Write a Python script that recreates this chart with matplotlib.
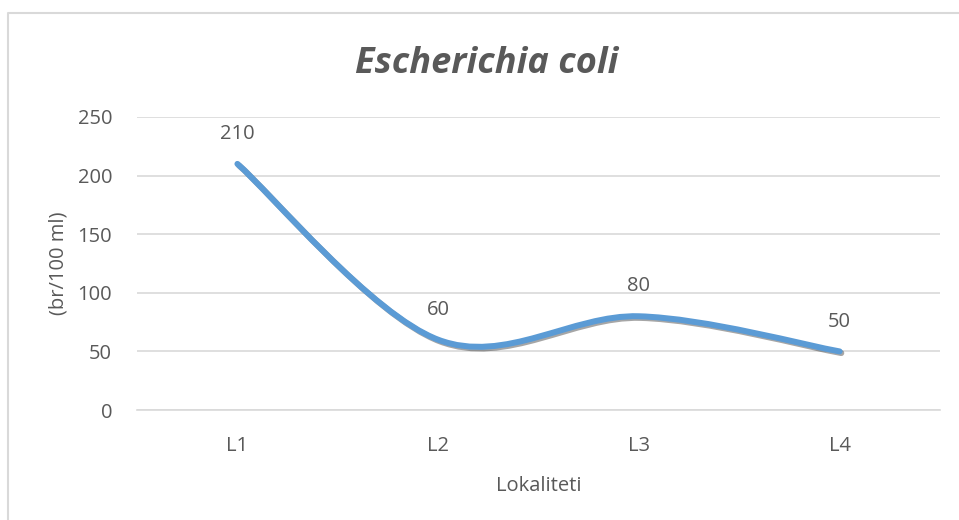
import matplotlib.pyplot as plt
import matplotlib.patheffects as pe
from matplotlib.path import Path
from matplotlib.patches import PathPatch
from matplotlib.lines import Line2D

plt.rcParams['font.family'] = ['Open Sans', 'DejaVu Sans']

lokaliteti = ["L1", "L2", "L3", "L4"]
vrijednosti = [210, 60, 80, 50]
y_ticks = [0, 50, 100, 150, 200, 250]

txt = "#595959"
fs = 14.5

fig = plt.figure(figsize=(9.59, 5.2), dpi=100)
# chart border (only top and left edges are visible in the crop)
fig.lines.append(Line2D([7.5 / 959, 7.5 / 959, 958 / 959], [0, 507.5 / 520, 507.5 / 520],
                        transform=fig.transFigure, color="#D9D9D9", linewidth=1.5))
ax = fig.add_axes([0.1429, 0.2115, 0.8373, 0.5635])

x = list(range(len(vrijednosti)))
# smoothed line like Excel (Catmull-Rom bezier through the points)
pts = list(zip(x, vrijednosti))
verts = [pts[0]]
codes = [Path.MOVETO]
for i in range(len(pts) - 1):
    p0 = pts[max(i - 1, 0)]
    p1 = pts[i]
    p2 = pts[i + 1]
    p3 = pts[min(i + 2, len(pts) - 1)]
    c1 = (p1[0] + (p2[0] - p0[0]) / 6, p1[1] + (p2[1] - p0[1]) / 6)
    c2 = (p2[0] - (p3[0] - p1[0]) / 6, p2[1] - (p3[1] - p1[1]) / 6)
    verts += [c1, c2, p2]
    codes += [Path.CURVE4] * 3
patch = PathPatch(Path(verts, codes), facecolor="none", edgecolor="#5B9BD5", linewidth=4.3,
                  capstyle="round", joinstyle="round", zorder=3)
patch.set_path_effects([pe.SimpleLineShadow(offset=(1.2, -1.2), shadow_color="black", alpha=0.35),
                        pe.Normal()])
ax.add_patch(patch)

for xi, v in zip(x, vrijednosti):
    ax.annotate(str(v), (xi, v), xytext=(0, 21.5), textcoords="offset points",
                ha="center", va="center", fontsize=fs, color=txt)

ax.set_xlim(-0.5, 3.5)
ax.set_ylim(0, 250)
ax.set_xticks(x)
ax.set_xticklabels(lokaliteti)
ax.set_yticks(y_ticks)
ax.grid(axis="y", color="#D9D9D9", linewidth=1.2)
ax.set_axisbelow(True)
for s in ["top", "right", "left"]:
    ax.spines[s].set_visible(False)
ax.spines["bottom"].set_color("#D9D9D9")
ax.spines["bottom"].set_linewidth(1.2)
ax.tick_params(length=0, labelsize=fs, labelcolor=txt)
ax.tick_params(axis="x", pad=18.5)
ax.tick_params(axis="y", pad=18)

ax.set_xlabel("Lokaliteti", fontsize=fs, color=txt, va="center")
ax.xaxis.set_label_coords(0.5, -0.259)
ax.set_ylabel("(br/100 ml)", fontsize=fs, color=txt, va="center")
ax.yaxis.set_label_coords(-0.098, 0.5)
fig.text(0.508, 0.8596, "Escherichia coli", ha="center", va="baseline", fontsize=26,
         fontweight="bold", fontstyle="italic", color=txt)

fig.savefig("out.png", dpi=100)
